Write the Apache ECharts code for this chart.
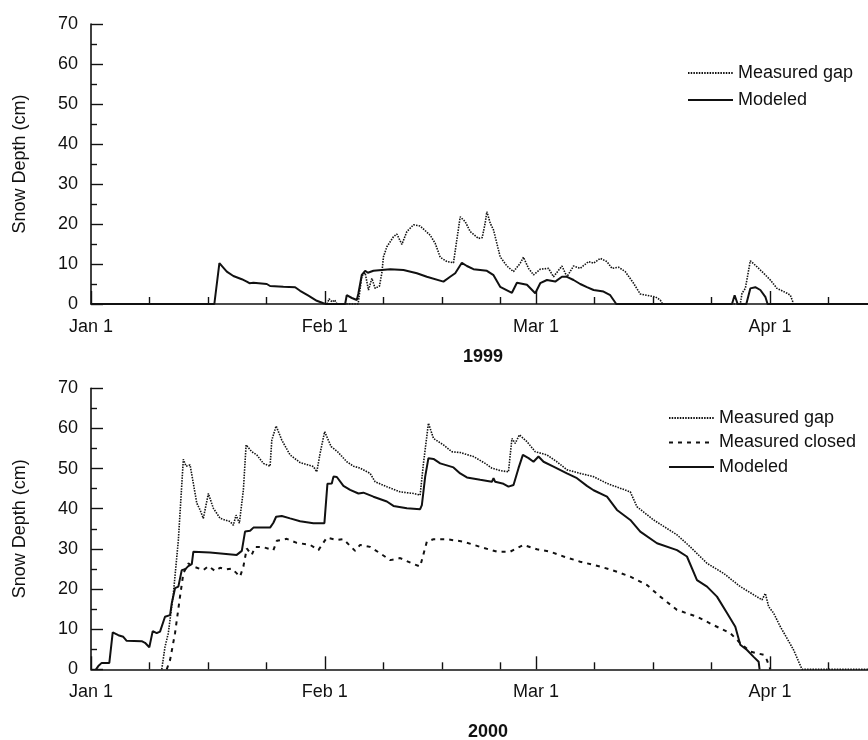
<!DOCTYPE html>
<html>
<head>
<meta charset="utf-8">
<script src="https://cdn.jsdelivr.net/npm/echarts@6/dist/echarts.min.js"></script>
<style>
html,body{margin:0;padding:0;background:#fff;}
#chart{width:868px;height:740px;}
</style>
</head>
<body>
<div id="chart"></div>
<script>
// x values: days since Jan 1 (axis ticks drawn at the original figure's positions)
const xMajorTicks = [0, 31, 59, 90];
const xMajorLabels = ['Jan 1', 'Feb 1', 'Mar 1', 'Apr 1'];
const xMinorTicks = [7.75, 15.5, 23.25, 38.75, 46.5, 54.25, 66.75, 74.5, 82.25, 97.75];
const xMax = 103;
const yMax = 70;
const yInterval = 10;
const panelTitles = ['1999', '2000'];
const yName = 'Snow Depth (cm)';

// 1999 panel: [day, snow depth cm]
const gap1999 = [[31.3,0],[31.56,1.3],[31.96,0.5],[32.29,1.0],[32.63,0],[35.41,0],[35.9,7.0],[36.34,7.8],[36.78,3.5],[37.23,6.4],[37.67,3.9],[38.24,4.5],[38.55,7.7],[38.77,11.8],[39.22,14.3],[40.09,16.8],[40.54,17.5],[41.21,14.9],[41.87,18.1],[42.75,19.8],[43.63,19.5],[44.96,17.2],[45.62,15.2],[46.29,11.7],[47.18,10.6],[48.05,10.3],[48.94,21.8],[49.6,20.6],[50.27,18.1],[51.37,16.4],[51.86,16.6],[52.25,20.2],[52.48,23.1],[52.92,20.2],[53.36,18.5],[54.24,11.8],[55.13,9.5],[56.01,8.1],[56.9,10.2],[57.33,11.7],[58.0,8.9],[58.66,7.3],[59.55,8.7],[60.65,8.9],[61.31,6.8],[62.43,9.5],[63.09,6.8],[63.97,9.5],[64.85,8.9],[65.95,10.6],[66.62,10.2],[67.51,11.4],[68.4,10.6],[69.06,8.9],[69.93,9.2],[70.82,8.1],[71.92,5.2],[72.81,2.5],[74.14,2.0],[74.8,1.8],[75.46,1.0],[75.77,0],[86.07,0],[86.3,2.7],[86.74,3.9],[87.4,10.8],[88.29,9.3],[89.16,7.7],[90.05,6.0],[90.94,3.9],[92.27,2.7],[92.71,2.2],[93.14,0]];
const model1999 = [[0,0],[16.35,0],[17.02,10.2],[18.0,8.1],[18.87,7.0],[19.99,6.2],[20.65,5.6],[21.0,5.2],[21.53,5.3],[23.3,5.0],[23.74,4.5],[25.5,4.3],[27.06,4.2],[27.72,3.3],[28.82,2.1],[29.93,0.8],[30.81,0.2],[31.17,0],[33.69,0],[33.9,2.2],[34.58,1.5],[35.24,1.0],[35.45,2.7],[35.9,7.3],[36.34,8.3],[36.7,7.8],[37.44,8.3],[39.66,8.7],[41.42,8.5],[43.2,7.7],[44.52,6.8],[46.72,5.6],[47.61,6.8],[48.28,7.7],[49.16,10.3],[49.83,9.5],[50.7,8.7],[52.48,8.3],[53.36,7.2],[54.24,4.3],[55.8,2.8],[56.46,5.3],[57.79,4.8],[58.89,2.7],[59.55,5.2],[60.44,6.0],[61.54,5.6],[62.43,6.8],[63.09,6.8],[63.97,6.0],[64.85,5.0],[65.74,4.2],[66.62,3.5],[67.94,3.1],[68.83,2.2],[69.63,0],[84.97,0],[85.32,2.2],[85.72,0],[86.87,0],[87.4,3.9],[88.06,4.2],[88.73,3.5],[89.39,1.8],[89.69,0],[103,0]];

// 2000 panel: [day, snow depth cm]
const gap2000 = [[9.38,0],[9.81,5.6],[10.25,9.0],[10.92,18.9],[11.58,32.2],[12.24,52.3],[12.6,50.6],[13.13,50.9],[13.57,46.3],[14.02,41.4],[14.46,39.7],[14.89,37.6],[15.56,43.8],[16.22,40.1],[17.11,37.6],[18.44,36.8],[18.87,35.9],[19.23,38.4],[19.67,36.4],[20.2,44.7],[20.56,55.9],[21.31,54.2],[21.98,53.4],[22.85,51.3],[23.74,50.6],[23.97,57.1],[24.54,60.6],[25.29,57.1],[26.39,53.4],[27.72,51.5],[29.48,50.5],[29.93,49.2],[30.37,53.8],[30.97,59.2],[31.83,55.5],[32.69,54.2],[33.91,51.7],[34.79,50.6],[35.68,50.1],[37.0,48.8],[37.67,46.7],[39.22,45.5],[40.98,44.2],[42.75,43.8],[43.63,43.4],[44.07,51.3],[44.73,61.3],[45.4,57.5],[46.72,55.9],[47.84,54.2],[48.94,54.0],[50.7,53.0],[52.25,51.3],[53.14,50.1],[54.24,49.5],[55.34,49.2],[55.8,57.5],[56.23,56.3],[56.8,58.4],[57.79,56.7],[58.89,54.2],[60.44,53.4],[61.76,51.7],[63.09,49.7],[64.85,48.8],[66.62,48.0],[68.4,46.3],[71.49,44.2],[72.37,40.5],[74.58,37.2],[77.68,33.5],[79.44,30.5],[81.66,26.4],[83.86,23.9],[86.07,20.6],[88.95,17.3],[89.39,18.9],[89.83,15.6],[90.49,14.0],[91.38,10.6],[92.27,7.7],[93.14,4.8],[93.81,1.9],[94.26,0],[103,0]];
const closed2000 = [[10.04,0],[10.48,2.3],[11.14,9.0],[11.8,18.1],[12.24,23.9],[12.9,26.4],[13.57,25.6],[14.89,24.7],[15.56,25.7],[16.45,24.5],[17.11,25.3],[18.0,24.9],[18.66,25.1],[19.32,23.9],[19.76,23.1],[20.2,25.6],[20.65,30.1],[21.31,28.5],[21.75,30.5],[22.85,30.4],[24.18,29.7],[24.63,32.0],[25.95,32.5],[27.28,31.5],[29.05,31.0],[30.15,29.7],[31.26,32.8],[32.59,32.2],[33.46,32.4],[35.01,29.5],[35.68,31.0],[37.0,30.5],[38.33,28.9],[39.66,27.2],[40.98,27.7],[42.53,26.4],[43.63,25.6],[44.52,31.8],[45.4,32.4],[47.18,32.4],[49.38,31.8],[51.59,30.5],[53.81,29.3],[55.57,29.3],[57.33,31.0],[59.11,29.9],[60.88,29.3],[62.64,28.1],[64.85,26.8],[67.51,25.6],[69.72,24.3],[71.49,23.1],[73.7,21.0],[75.46,18.1],[77.68,14.8],[80.33,13.1],[82.53,11.0],[84.75,9.0],[86.07,6.5],[87.4,4.4],[89.16,3.6],[89.6,2.3],[90.05,0]];
const model2000 = [[0.66,0],[0.97,0.8],[1.42,1.6],[2.43,1.6],[2.88,9.2],[3.62,8.5],[4.28,8.1],[4.73,7.1],[6.72,7.0],[7.16,6.6],[7.73,5.5],[8.18,9.5],[8.71,9.0],[9.15,9.4],[9.81,13.1],[10.48,13.5],[10.7,16.4],[11.14,20.2],[11.58,20.6],[12.03,24.7],[12.47,24.9],[12.9,25.7],[13.36,26.2],[13.57,29.3],[15.78,29.1],[19.32,28.5],[19.99,29.5],[20.42,34.3],[21.09,34.5],[21.53,35.3],[23.74,35.3],[24.18,36.5],[24.54,38.0],[25.29,38.2],[26.39,37.6],[27.72,36.9],[29.48,36.4],[30.94,36.4],[31.34,46.2],[31.92,46.3],[32.14,48.0],[32.59,47.9],[33.46,45.7],[34.35,44.7],[35.45,43.8],[36.11,44.0],[37.44,43.0],[39.22,41.8],[40.09,40.7],[41.87,40.1],[43.63,39.9],[43.86,40.9],[44.3,48.0],[44.73,52.6],[45.4,52.4],[46.29,51.3],[48.05,50.3],[48.94,48.8],[49.83,47.8],[51.59,47.2],[53.14,46.7],[53.36,47.6],[53.58,46.7],[54.68,46.2],[55.34,45.5],[56.01,45.9],[56.67,50.1],[57.25,53.4],[58.0,52.6],[58.66,51.7],[59.32,53.0],[59.99,51.7],[61.31,50.5],[63.09,48.8],[64.42,47.6],[65.74,45.7],[66.62,44.6],[68.4,43.0],[69.72,39.7],[71.49,37.2],[72.81,34.3],[75.03,31.4],[77.68,29.7],[79.0,28.1],[80.33,22.2],[81.66,20.6],[82.98,18.1],[84.31,14.0],[85.41,10.6],[86.07,6.1],[86.96,4.8],[87.84,3.1],[88.5,1.9],[88.63,0]];

const FONT = '"Liberation Sans", Arial, sans-serif';
const INK = '#111';

const gapStyle = { color: INK, width: 1.6, type: [1.5, 1.2] };
const closedStyle = { color: INK, width: 2, type: [4, 5] };
const modelStyle = { color: INK, width: 2, type: 'solid' };

function majorX(gridIndex) {
  return {
    type: 'value', gridIndex, min: 0, max: xMax, position: 'bottom',
    axisLine: { show: true, onZero: false, lineStyle: { color: INK, width: 1.6 } },
    axisTick: { show: true, inside: true, length: 13, customValues: xMajorTicks, lineStyle: { color: INK, width: 1.4 } },
    axisLabel: {
      show: true, customValues: xMajorTicks, margin: 14,
      fontSize: 18, fontFamily: FONT, color: INK,
      formatter: v => { const i = xMajorTicks.indexOf(v); return i >= 0 ? xMajorLabels[i] : ''; }
    },
    splitLine: { show: false }
  };
}
function minorX(gridIndex) {
  return {
    type: 'value', gridIndex, min: 0, max: xMax, position: 'bottom', offset: 0,
    axisLine: { show: false, onZero: false },
    axisTick: { show: true, inside: true, length: 7, customValues: xMinorTicks, lineStyle: { color: INK, width: 1.4 } },
    axisLabel: { show: false },
    splitLine: { show: false }
  };
}
function yAx(gridIndex) {
  return {
    type: 'value', gridIndex, min: 0, max: yMax, interval: yInterval,
    name: yName, nameLocation: 'middle', nameGap: 62,
    nameTextStyle: { fontSize: 18, fontFamily: FONT, color: INK },
    axisLine: { show: true, onZero: false, lineStyle: { color: INK, width: 1.6 } },
    axisTick: { show: true, inside: true, length: 12, lineStyle: { color: INK, width: 1.4 } },
    minorTick: { show: true, splitNumber: 2, length: 6, lineStyle: { color: INK, width: 1.4 } },
    axisLabel: { fontSize: 18, fontFamily: FONT, color: INK, margin: 13 },
    splitLine: { show: false }
  };
}
function ser(name, data, xi, yi, ls) {
  return {
    name, type: 'line', data, xAxisIndex: xi, yAxisIndex: yi,
    symbol: 'none', showSymbol: false, lineStyle: ls, itemStyle: { color: INK },
    clip: true, animation: false, z: 3
  };
}
const legendBase = {
  orient: 'vertical', itemWidth: 45, itemHeight: 18, selectedMode: false, padding: 0,
  itemStyle: { opacity: 0 },
  textStyle: { fontSize: 18, fontFamily: FONT, color: INK, lineHeight: 18 }
};

const chart = echarts.init(document.getElementById('chart'), null, { renderer: 'canvas' });
chart.setOption({
  backgroundColor: '#fff',
  animation: false,
  grid: [
    { left: 91, right: 0, top: 24, height: 280 },
    { left: 91, right: 0, top: 388.3, height: 281 }
  ],
  xAxis: [majorX(0), minorX(0), majorX(1), minorX(1)],
  yAxis: [yAx(0), yAx(1)],
  legend: [
    Object.assign({}, legendBase, { data: ['Measured gap', 'Modeled'], left: 687, top: 64, itemGap: 9 }),
    Object.assign({}, legendBase, { data: ['Measured gap', 'Measured closed', 'Modeled'], left: 668, top: 409, itemGap: 6.5 })
  ],
  graphic: [
    { type: 'text', x: 483, y: 357, style: { text: panelTitles[0], fill: INK, font: 'bold 18px ' + FONT, align: 'center', verticalAlign: 'middle', textAlign: 'center', textVerticalAlign: 'middle' } },
    { type: 'text', x: 488, y: 732, style: { text: panelTitles[1], fill: INK, font: 'bold 18px ' + FONT, align: 'center', verticalAlign: 'middle', textAlign: 'center', textVerticalAlign: 'middle' } }
  ],
  series: [
    ser('Measured gap', gap1999, 0, 0, gapStyle),
    ser('Modeled', model1999, 0, 0, modelStyle),
    ser('Measured gap', gap2000, 2, 1, gapStyle),
    ser('Measured closed', closed2000, 2, 1, closedStyle),
    ser('Modeled', model2000, 2, 1, modelStyle)
  ]
});
</script>
</body>
</html>
